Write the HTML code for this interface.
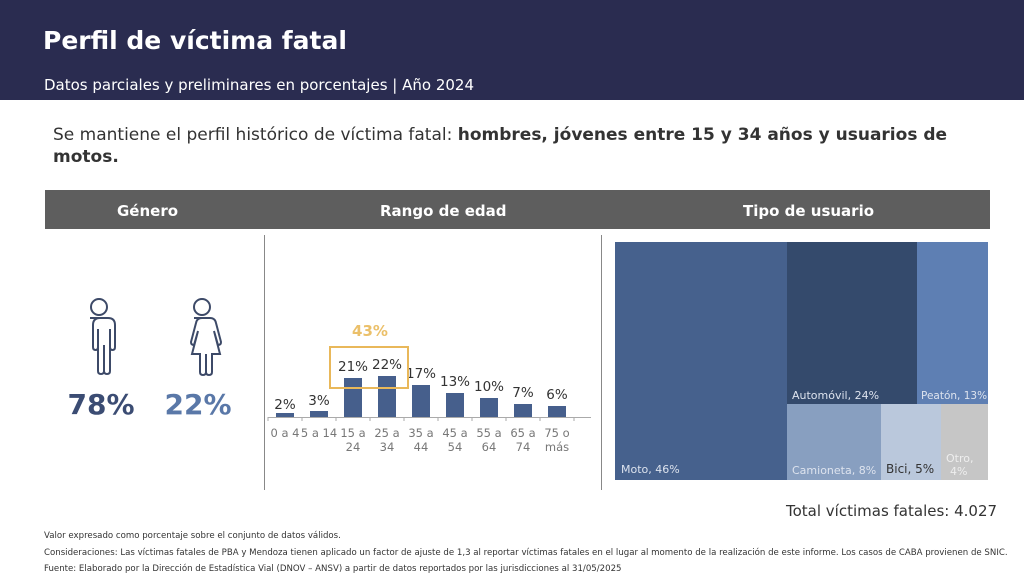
<!DOCTYPE html>
<html><head><meta charset="utf-8"><style>
body{margin:0;width:1024px;height:577px;background:#fff;font-family:"Liberation Sans","DejaVu Sans",sans-serif;position:relative;overflow:hidden}
.a{position:absolute;white-space:nowrap}
</style></head><body>
<div class="a" style="left:0;top:0;width:1024px;height:100px;background:#2a2c50"></div>
<div class="a" style="left:43px;top:26px;font-size:25px;font-weight:bold;color:#fff;font-family:'DejaVu Sans',sans-serif">Perfil de víctima fatal</div>
<div class="a" style="left:44px;top:76px;font-size:15px;color:#fff;font-family:'DejaVu Sans',sans-serif">Datos parciales y preliminares en porcentajes | Año 2024</div>
<div class="a" style="left:53px;top:124px;font-size:17px;color:#333;line-height:22px;font-family:'DejaVu Sans',sans-serif">Se mantiene el perfil histórico de víctima fatal: <b>hombres, jóvenes entre 15 y 34 años y usuarios de</b><br><b>motos.</b></div>
<div class="a" style="left:45px;top:190px;width:945px;height:39px;background:#5e5e5e"></div>
<div class="a" style="left:117px;top:202px;font-size:15px;font-weight:bold;color:#fff;font-family:'DejaVu Sans',sans-serif">Género</div>
<div class="a" style="left:380px;top:202px;font-size:15px;font-weight:bold;color:#fff;font-family:'DejaVu Sans',sans-serif">Rango de edad</div>
<div class="a" style="left:743px;top:202px;font-size:15px;font-weight:bold;color:#fff;font-family:'DejaVu Sans',sans-serif">Tipo de usuario</div>
<div class="a" style="left:264px;top:235px;width:1px;height:255px;background:#888"></div>
<div class="a" style="left:601px;top:235px;width:1px;height:255px;background:#888"></div>
<svg class="a" style="left:0;top:0" width="1024" height="577">
<g fill="none" stroke="#3d4a68" stroke-width="2">
<circle cx="99" cy="307" r="8"/>
<path d="M90 318 h18 q7 0 7 7 v22 q0 3-2.5 3 q-2.5 0-2.5-3 v-18 v42 q0 3-3 3 q-3 0-3-3 v-26 v26 q0 3-3 3 q-3 0-3-3 v-42 v18 q0 3-2.5 3 q-2.5 0-2.5-3 v-22 q0-7 7-7z"/>
<circle cx="202" cy="307" r="8"/>
<path d="M194 318 h16 q5 0 6 5 l5 19 q0 3-3 3 l-4-14 l6 23 h-8 v18 q0 3-3 3 q-3 0-3-3 v-18 v18 q0 3-3 3 q-3 0-3-3 v-18 h-8 l6-23 l-4 14 q-3 0-3-3 l5-19 q1-5 6-5z"/>
</g>
<text x="101" y="414" text-anchor="middle" font-size="28" font-weight="bold" fill="#3b4c73" font-family="DejaVu Sans">78%</text>
<text x="198" y="414" text-anchor="middle" font-size="28" font-weight="bold" fill="#5a78a8" font-family="DejaVu Sans">22%</text>
<g fill="#465f8c">
<rect x="276" y="413" width="18" height="4"/><rect x="310" y="411" width="18" height="6"/>
<rect x="344" y="378" width="18" height="39"/><rect x="378" y="376" width="18" height="41"/>
<rect x="412" y="385" width="18" height="32"/><rect x="446" y="393" width="18" height="24"/>
<rect x="480" y="398" width="18" height="19"/><rect x="514" y="404" width="18" height="13"/>
<rect x="548" y="406" width="18" height="11"/>
</g>
<g stroke="#aaa" stroke-width="1"><line x1="268" y1="417.5" x2="591" y2="417.5"/>
<line x1="268" y1="417" x2="268" y2="421"/><line x1="302" y1="417" x2="302" y2="421"/><line x1="336" y1="417" x2="336" y2="421"/><line x1="370" y1="417" x2="370" y2="421"/><line x1="404" y1="417" x2="404" y2="421"/><line x1="438" y1="417" x2="438" y2="421"/><line x1="472" y1="417" x2="472" y2="421"/><line x1="506" y1="417" x2="506" y2="421"/><line x1="540" y1="417" x2="540" y2="421"/><line x1="574" y1="417" x2="574" y2="421"/></g>
<g font-size="13.5" fill="#333" text-anchor="middle" font-family="DejaVu Sans">
<text x="285" y="409">2%</text><text x="319" y="405">3%</text><text x="353" y="371">21%</text><text x="387" y="369">22%</text><text x="421" y="378">17%</text><text x="455" y="386">13%</text><text x="489" y="391">10%</text><text x="523" y="397">7%</text><text x="557" y="399">6%</text>
</g>
<g font-size="11.5" fill="#777" text-anchor="middle" font-family="DejaVu Sans">
<text x="285" y="437">0 a 4</text><text x="319" y="437">5 a 14</text>
<text x="353" y="437">15 a</text><text x="353" y="451">24</text>
<text x="387" y="437">25 a</text><text x="387" y="451">34</text>
<text x="421" y="437">35 a</text><text x="421" y="451">44</text>
<text x="455" y="437">45 a</text><text x="455" y="451">54</text>
<text x="489" y="437">55 a</text><text x="489" y="451">64</text>
<text x="523" y="437">65 a</text><text x="523" y="451">74</text>
<text x="557" y="437">75 o</text><text x="557" y="451">más</text>
</g>
<rect x="330" y="347" width="78" height="41" fill="none" stroke="#e9b85a" stroke-width="2"/>
<text x="370" y="336" text-anchor="middle" font-size="15" font-weight="bold" fill="#ebc06a" font-family="DejaVu Sans">43%</text>
<rect x="615" y="242" width="172" height="238" fill="#46618d"/>
<rect x="787" y="242" width="130" height="162" fill="#344a6c"/>
<rect x="917" y="242" width="71" height="162" fill="#5e7fb3"/>
<rect x="787" y="404" width="94" height="76" fill="#889fc0"/>
<rect x="881" y="404" width="60" height="76" fill="#bac8dc"/>
<rect x="941" y="404" width="47" height="76" fill="#c6c6c6"/>
<g font-size="11" fill="#dde3ee" font-family="DejaVu Sans">
<text x="621" y="473">Moto, 46%</text><text x="792" y="399">Automóvil, 24%</text><text x="921" y="399" font-size="10.5">Peatón, 13%</text>
<text x="792" y="474">Camioneta, 8%</text><text x="946" y="462" fill="#eee">Otro,</text><text x="950" y="475" fill="#eee">4%</text>
</g>
<text x="886" y="473" font-size="12" fill="#333" font-family="DejaVu Sans">Bici, 5%</text>
</svg>
<div class="a" style="left:786px;top:502px;font-size:15px;color:#333;font-family:'DejaVu Sans',sans-serif">Total víctimas fatales: 4.027</div>
<div class="a" style="left:44px;top:531px;font-size:8.6px;color:#333;font-family:'DejaVu Sans',sans-serif">Valor expresado como porcentaje sobre el conjunto de datos válidos.</div>
<div class="a" style="left:44px;top:548px;font-size:8.6px;color:#333;font-family:'DejaVu Sans',sans-serif">Consideraciones: Las víctimas fatales de PBA y Mendoza tienen aplicado un factor de ajuste de 1,3 al reportar víctimas fatales en el lugar al momento de la realización de este informe. Los casos de CABA provienen de SNIC.</div>
<div class="a" style="left:44px;top:564px;font-size:8.6px;color:#333;font-family:'DejaVu Sans',sans-serif">Fuente: Elaborado por la Dirección de Estadística Vial (DNOV – ANSV) a partir de datos reportados por las jurisdicciones al 31/05/2025</div>
</body></html>
